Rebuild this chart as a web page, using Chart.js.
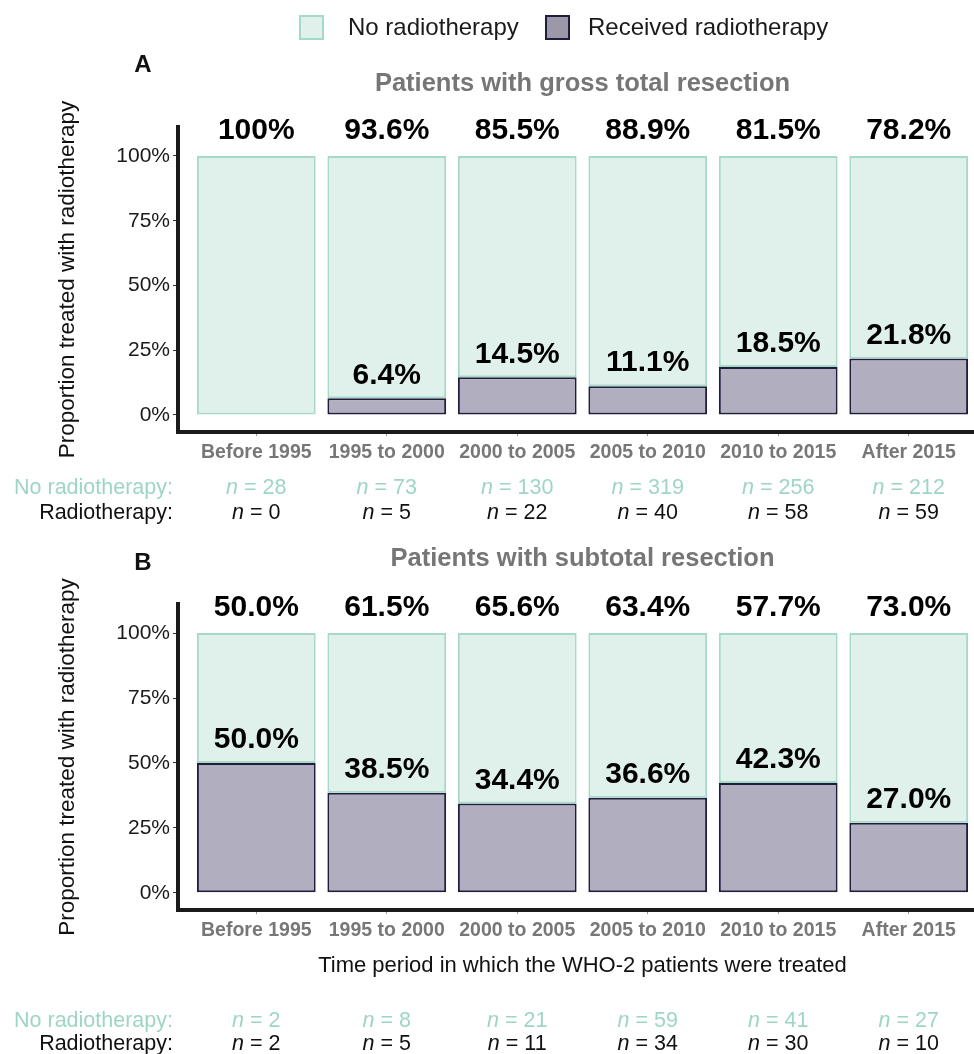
<!DOCTYPE html>
<html>
<head>
<meta charset="utf-8">
<script src="https://cdn.jsdelivr.net/npm/chart.js@4/dist/chart.umd.min.js"></script>
<style>
  html, body { margin: 0; padding: 0; background: #fff; overflow: hidden; }
  #wrap { position: relative; width: 974px; height: 1054px; overflow: hidden; }
  canvas { position: absolute; left: 0; }
  #chartA { top: 0; }
  #chartB { top: 540px; }
</style>
</head>
<body>
<div id="wrap">
  <canvas id="chartA" width="990" height="540"></canvas>
  <canvas id="chartB" width="990" height="514"></canvas>
</div>
<script>
// categories
const periods = ['Before 1995', '1995 to 2000', '2000 to 2005', '2005 to 2010', '2010 to 2015', 'After 2015'];
const yTicks = [0, 25, 50, 75, 100];

// A: gross total resection
const gtrNoPct = [100, 93.6, 85.5, 88.9, 81.5, 78.2];
const gtrRtPct = [0, 6.4, 14.5, 11.1, 18.5, 21.8];
const gtrNoN = [28, 73, 130, 319, 256, 212];
const gtrRtN = [0, 5, 22, 40, 58, 59];

// B: subtotal resection
const strNoPct = [50.0, 61.5, 65.6, 63.4, 57.7, 73.0];
const strRtPct = [50.0, 38.5, 34.4, 36.6, 42.3, 27.0];
const strNoN = [2, 8, 21, 59, 41, 27];
const strRtN = [2, 5, 11, 34, 30, 10];

const FONT = '"Liberation Sans", Arial, sans-serif';
const lightFill = '#e0f1eb', lightLine = '#a6dac7';
const darkFill = '#b1afbf', darkLine = '#1f1d3d';
const tealText = '#9ed6c1';

function fmt(v) {
    return v === 100 ? '100%' : v.toFixed(1) + '%';
}

const annot = {
    id: 'annot',
    afterDraw(chart, args, o) {
        const ctx = chart.ctx;
        const x = chart.scales.x, y = chart.scales.y, area = chart.chartArea;
        ctx.save();
        ctx.textAlign = 'center';
        ctx.textBaseline = 'middle';

        // legend (panel A only)
        if (o.legend) {
            ctx.font = '24px ' + FONT;
            const items = [
                {label: 'No radiotherapy', fill: lightFill, line: lightLine, bx: 300, tx: 348},
                {label: 'Received radiotherapy', fill: '#9d97aa', line: darkLine, bx: 546, tx: 588}
            ];
            items.forEach(it => {
                ctx.fillStyle = it.fill;
                ctx.fillRect(it.bx, 16, 23, 23);
                ctx.strokeStyle = it.line;
                ctx.lineWidth = 2;
                ctx.strokeRect(it.bx, 16, 23, 23);
                ctx.fillStyle = '#1a1a1a';
                ctx.textAlign = 'left';
                ctx.fillText(it.label, it.tx, 28);
            });
            ctx.textAlign = 'center';
        }

        // panel letter and title
        ctx.fillStyle = '#111';
        ctx.font = 'bold 24px ' + FONT;
        ctx.fillText(o.letter, 143, o.letterY);
        ctx.fillStyle = '#767676';
        ctx.font = 'bold 25.5px ' + FONT;
        ctx.fillText(o.title, (area.left + area.right) / 2, o.titleY);

        // percentage labels
        ctx.fillStyle = '#000';
        ctx.font = 'bold 30px ' + FONT;
        o.noPct.forEach((v, i) => {
            const cx = x.getPixelForValue(i + 1);
            ctx.fillText(fmt(v), cx, y.getPixelForValue(100) - 25);
            if (o.rtPct[i] > 0) {
                ctx.fillText(fmt(o.rtPct[i]), cx, y.getPixelForValue(o.rtPct[i]) - 23);
            }
        });

        // n rows
        const rows = [
            {name: 'No radiotherapy:', vals: o.noN, color: tealText, dy: o.nRow1},
            {name: 'Radiotherapy:', vals: o.rtN, color: '#111', dy: o.nRow2}
        ];
        const reg = '21.5px ' + FONT, ital = 'italic 21.5px ' + FONT;
        rows.forEach(r => {
            const ry = area.bottom + r.dy;
            ctx.fillStyle = r.color;
            ctx.font = reg;
            ctx.textAlign = 'right';
            ctx.fillText(r.name, 173, ry);
            ctx.textAlign = 'left';
            r.vals.forEach((n, i) => {
                const cx = x.getPixelForValue(i + 1);
                ctx.font = ital;
                const w1 = ctx.measureText('n').width;
                ctx.font = reg;
                const rest = ' = ' + n;
                const w2 = ctx.measureText(rest).width;
                const sx = cx - (w1 + w2) / 2;
                ctx.font = ital;
                ctx.fillText('n', sx, ry);
                ctx.font = reg;
                ctx.fillText(rest, sx + w1, ry);
            });
        });
        ctx.restore();
    }
};

function makeChart(id, p) {
    const ctx = document.getElementById(id).getContext('2d');
    return new Chart(ctx, {
        type: 'bar',
        data: {
            datasets: [{
                label: 'Received radiotherapy',
                data: p.rtPct.map((v, i) => ({x: i + 1, y: v})),
                backgroundColor: darkFill,
                borderColor: darkLine,
                borderWidth: c => (c.raw && c.raw.y > 0 ? 2 : 0),
                borderSkipped: false,
                barPercentage: 0.91,
                categoryPercentage: 1
            }, {
                label: 'No radiotherapy',
                data: p.noPct.map((v, i) => ({x: i + 1, y: v})),
                backgroundColor: lightFill,
                borderColor: lightLine,
                borderWidth: 2,
                borderSkipped: false,
                barPercentage: 0.91,
                categoryPercentage: 1
            }]
        },
        options: {
            responsive: false,
            animation: false,
            devicePixelRatio: 1,
            layout: {padding: {top: p.padTop, left: 0, right: 3, bottom: p.padBottom}},
            plugins: {
                legend: {display: false},
                tooltip: {enabled: false},
                annot: p
            },
            scales: {
                x: {
                    type: 'linear',
                    stacked: true,
                    offset: false,
                    min: 0.4,
                    max: 6.6,
                    afterBuildTicks: s => { s.ticks = periods.map((c, i) => ({value: i + 1})); },
                    afterFit: s => { s.height = p.xHeight; },
                    ticks: {
                        autoSkip: false,
                        maxRotation: 0,
                        padding: 5,
                        color: '#777',
                        font: {family: FONT, size: 19.5, weight: 'bold'},
                        callback: v => periods[Math.round(v) - 1]
                    },
                    grid: {offset: false, drawOnChartArea: false, drawTicks: true, tickLength: 4, tickColor: '#999'},
                    border: {display: true, color: '#1a1a1a', width: 4},
                    title: {
                        display: !!p.xTitle,
                        text: p.xTitle || '',
                        color: '#111',
                        font: {family: FONT, size: 22},
                        padding: {top: 0, bottom: p.xTitlePad || 0}
                    }
                },
                y: {
                    stacked: true,
                    min: -6.6,
                    max: 111.2,
                    afterBuildTicks: s => { s.ticks = yTicks.map(v => ({value: v})); },
                    afterFit: s => { s.width = 178; },
                    ticks: {
                        padding: 3,
                        color: '#1a1a1a',
                        font: {family: FONT, size: 21},
                        callback: v => v + '%'
                    },
                    grid: {drawOnChartArea: false, drawTicks: true, tickLength: 5, tickColor: '#333'},
                    border: {display: true, color: '#1a1a1a', width: 4},
                    title: {
                        display: true,
                        text: 'Proportion treated with radiotherapy',
                        color: '#111',
                        font: {family: FONT, size: 22.5},
                        padding: {top: 54, bottom: 0}
                    }
                }
            }
        },
        plugins: [annot]
    });
}

makeChart('chartA', {
    legend: true,
    letter: 'A', letterY: 65,
    title: 'Patients with gross total resection', titleY: 84,
    noPct: gtrNoPct, rtPct: gtrRtPct, noN: gtrNoN, rtN: gtrRtN,
    nRow1: 56, nRow2: 81,
    padTop: 127, padBottom: 68, xHeight: 40
});

makeChart('chartB', {
    legend: false,
    letter: 'B', letterY: 23,
    title: 'Patients with subtotal resection', titleY: 19,
    noPct: strNoPct, rtPct: strRtPct, noN: strNoN, rtN: strRtN,
    nRow1: 111, nRow2: 134,
    padTop: 64, padBottom: 69, xHeight: 75,
    xTitle: 'Time period in which the WHO-2 patients were treated', xTitlePad: 6
});
</script>
</body>
</html>
